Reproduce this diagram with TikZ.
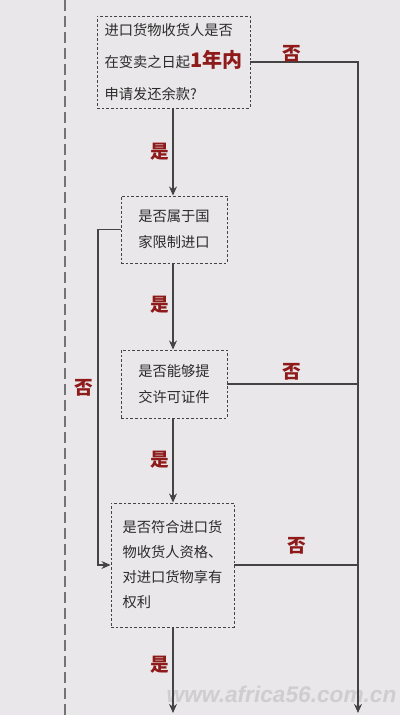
\documentclass[tikz,border=0pt]{standalone}
\usepackage{fontspec}
\newfontfamily\cjk{Noto Sans CJK SC}
\setsansfont{Liberation Sans}
\usetikzlibrary{arrows.meta}

\definecolor{bgcol}{HTML}{E9E7E9}
\definecolor{linecol}{HTML}{444444}
\definecolor{txtcol}{HTML}{2B2B2B}
\definecolor{labred}{HTML}{8E1A1A}
\definecolor{wmcol}{HTML}{CFCDCF}

\begin{document}
\begin{tikzpicture}[x=0.75pt,y=-0.75pt]
\tikzset{
  qbox/.style={draw=linecol,dash pattern=on 2pt off 1.5pt,line width=0.7pt,inner sep=0pt,align=left,text=txtcol},
  flow/.style={-{Stealth[length=2.4mm,width=2.1mm]},draw=linecol,line width=0.8pt},
  plain/.style={draw=linecol,line width=0.8pt},
  answer/.style={font=\cjk\bfseries\fontsize{14}{14}\selectfont,text=labred}
}
\fill[bgcol] (0,0) rectangle (400,715);
\useasboundingbox (0,0) rectangle (400,715);
% margin line
\coordinate (m_top) at (65,0);
\coordinate (m_bot) at (65,715);
\draw[linecol!75,line width=0.8pt,dash pattern=on 8pt off 4pt] (m_top) -- (m_bot);
% questions
\node[qbox,minimum width=114.75pt,minimum height=69pt,font=\cjk\fontsize{10.7}{24}\selectfont] (q_deadline) at (173.5,62)
  {进口货物收货人是否\\在变卖之日起{\color{labred}\bfseries\fontsize{15}{24}\selectfont 1年内}\\申请发还余款?};
\node[qbox,minimum width=79.5pt,minimum height=50.25pt,font=\cjk\fontsize{10.7}{19.5}\selectfont] (q_restrict) at (174,229.5)
  {是否属于国\\家限制进口};
\node[qbox,minimum width=79.5pt,minimum height=51pt,font=\cjk\fontsize{10.7}{19.5}\selectfont] (q_licence) at (174,384)
  {是否能够提\\交许可证件};
\node[qbox,minimum width=92.25pt,minimum height=93pt,font=\cjk\fontsize{10.7}{18.75}\selectfont] (q_qualify) at (172.5,565)
  {是否符合进口货\\物收货人资格、\\对进口货物享有\\权利};
% side routes
\coordinate (r_top) at (358,62);
\coordinate (r_bot) at (358,713);
\coordinate (l_top) at (98,229.5);
\coordinate (l_bot) at (98,565);
\coordinate (y_bot) at (173,713);
% watermark
\node[font=\sffamily\bfseries\itshape\fontsize{17}{17}\selectfont,text=wmcol,anchor=west] (wm) at (162,694) {www.africa56.com.cn};
% connectors
\draw[flow] (q_deadline.south -| 173,0) -- (q_restrict.north -| 173,0);
\draw[flow] (q_restrict.south -| 173,0) -- (q_licence.north -| 173,0);
\draw[flow] (q_licence.south -| 173,0) -- (q_qualify.north -| 173,0);
\draw[flow] (q_qualify.south -| 173,0) -- (y_bot);
\draw[flow] (q_deadline.east) -- (r_top) -- (r_bot);
\draw[plain] (q_licence.east) -- (q_licence.east -| r_top);
\draw[plain] (q_qualify.east) -- (q_qualify.east -| r_top);
\draw[flow] (q_restrict.west) -- (l_top) -- (l_bot) -- (q_qualify.west);
% answers
\node[answer] (a_yes1) at (160,152) {是};
\node[answer] (a_yes2) at (160,305) {是};
\node[answer] (a_yes3) at (160,460) {是};
\node[answer] (a_yes4) at (160,665) {是};
\node[answer] (a_no1) at (292,54) {否};
\node[answer] (a_no2) at (292,372) {否};
\node[answer] (a_no3) at (297,546) {否};
\node[answer] (a_no4) at (84,388) {否};
\end{tikzpicture}
\end{document}
